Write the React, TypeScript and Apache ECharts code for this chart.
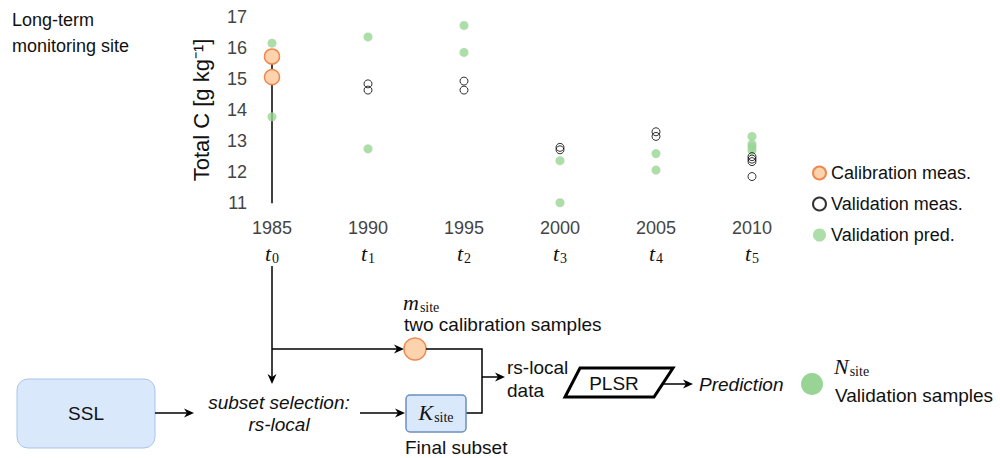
import React, { useEffect, useRef } from "react";
import * as echarts from "echarts";

const years = [1985, 1990, 1995, 2000, 2005, 2010];
const timeIndex = ["0", "1", "2", "3", "4", "5"];
const yTicks = [11, 17];
const calibrationMeas: [number, number][] = [
  [1985, 15.72],
  [1985, 15.06],
];
const calibrationLine: [number, number][] = [
  [1985, 11],
  [1985, 15.72],
];
const validationMeas: [number, number][] = [
  [1990, 14.84], [1990, 14.64],
  [1995, 14.93], [1995, 14.64],
  [2000, 12.8], [2000, 12.72],
  [2005, 13.3], [2005, 13.15],
  [2010, 12.5], [2010, 12.42], [2010, 12.34], [2010, 11.86],
];
const validationPred: [number, number][] = [
  [1985, 16.15], [1985, 13.78],
  [1990, 16.35], [1990, 12.75],
  [1995, 16.72], [1995, 15.85],
  [2000, 12.37], [2000, 11.02],
  [2005, 12.6], [2005, 12.07],
  [2010, 13.15], [2010, 12.9], [2010, 12.8], [2010, 12.7],
];

const SANS = "'Liberation Sans', Arial, Helvetica, sans-serif";
const SERIF = "'Liberation Serif', 'DejaVu Serif', serif";
const ORANGE_FILL = "#FDD3AE";
const ORANGE_STROKE = "#F0884E";
const GREEN = "#98D494";
const BLUE_FILL = "#DAE8FC";
const FS = 19;

function arrow(x1: number, y1: number, x2: number, y2: number) {
  const len = 10;
  const half = 4.5;
  const dx = x2 - x1;
  const dy = y2 - y1;
  const d = Math.sqrt(dx * dx + dy * dy);
  const ux = dx / d;
  const uy = dy / d;
  const bx = x2 - ux * len;
  const by = y2 - uy * len;
  const nx = -uy;
  const ny = ux;
  return [
    {
      type: "line",
      shape: { x1, y1, x2: bx + ux * 3, y2: by + uy * 3 },
      style: { stroke: "#000", lineWidth: 1.5 },
    },
    {
      type: "polygon",
      shape: {
        points: [
          [x2, y2],
          [bx + nx * half, by + ny * half],
          [bx + ux * 3, by + uy * 3],
          [bx - nx * half, by - ny * half],
        ],
      },
      style: { fill: "#000" },
    },
  ];
}

function txt(x: number, y: number, text: string, opts: any = {}) {
  return {
    type: "text",
    x,
    y,
    style: {
      text,
      fontFamily: SANS,
      fontSize: FS,
      fill: "#111",
      textAlign: opts.align || "left",
      textVerticalAlign: "middle",
      fontStyle: opts.italic ? "italic" : "normal",
      ...(opts.style || {}),
    },
  };
}

const mathRich = {
  v: { fontFamily: SERIF, fontStyle: "italic", fontSize: 22, fill: "#111", color: "#111" },
  s: { fontFamily: SERIF, fontSize: 14, fill: "#111", color: "#111", padding: [10, 0, 0, 1] },
};

function mathTxt(x: number, y: number, v: string, s: string, align = "left") {
  return {
    type: "text",
    x,
    y,
    style: {
      text: `{v|${v}}{s|${s}}`,
      rich: mathRich,
      textAlign: align,
      textVerticalAlign: "middle",
    },
  };
}

export default function App() {
  const ref = useRef<HTMLDivElement>(null);
  useEffect(() => {
    if (!ref.current) return;
    const chart = echarts.init(ref.current, undefined, { renderer: "svg" });
    const graphic: any[] = [
      txt(12, 20, "Long-term", { style: { fontSize: 18 } }),
      txt(12, 46, "monitoring site", { style: { fontSize: 18 } }),
      // flow
      ...arrow(272, 266, 272, 384),
      ...arrow(272, 349, 404, 349),
      {
        type: "circle",
        shape: { cx: 415, cy: 349, r: 11 },
        style: { fill: ORANGE_FILL, stroke: ORANGE_STROKE, lineWidth: 1.5 },
      },
      {
        type: "polyline",
        shape: { points: [[426, 349], [482, 349], [482, 413], [466, 413]] },
        style: { stroke: "#000", lineWidth: 1.5, fill: null },
      },
      ...arrow(482, 377, 505, 377),
      {
        type: "rect",
        shape: { x: 17, y: 379, width: 138, height: 69, r: 11 },
        style: { fill: BLUE_FILL, stroke: "#A9C4EB", lineWidth: 1 },
      },
      txt(86, 413, "SSL", { align: "center" }),
      ...arrow(155, 413, 194, 413),
      txt(279, 402, "subset selection:", { align: "center", italic: true }),
      txt(279, 424, "rs-local", { align: "center", italic: true }),
      ...arrow(360, 413, 405, 413),
      {
        type: "rect",
        shape: { x: 406, y: 395, width: 60, height: 37, r: 4 },
        style: { fill: BLUE_FILL, stroke: "#6C8EBF", lineWidth: 1.5 },
      },
      mathTxt(436, 412, "K", "site", "center"),
      txt(405, 447, "Final subset"),
      mathTxt(403, 302, "m", "site"),
      txt(404, 324, "two calibration samples"),
      txt(507, 367, "rs-local"),
      txt(507, 390, "data"),
      {
        type: "polygon",
        shape: { points: [[580, 368], [673, 368], [654, 397], [565, 397]] },
        style: { fill: "#fff", stroke: "#000", lineWidth: 3 },
      },
      txt(614, 383, "PLSR", { align: "center" }),
      ...arrow(663, 384, 693, 384),
      txt(699, 384, "Prediction", { italic: true }),
      {
        type: "circle",
        shape: { cx: 812, cy: 384, r: 11 },
        style: { fill: GREEN },
      },
      mathTxt(834, 366, "N", "site"),
      txt(835, 395, "Validation samples"),
    ];

    chart.setOption({
      animation: false,
      grid: { left: 272, top: 16.7, width: 480, height: 186.6, containLabel: false },
      xAxis: {
        type: "value",
        min: years[0],
        max: years[years.length - 1],
        interval: 5,
        axisLine: { show: false },
        axisTick: { show: false },
        splitLine: { show: false },
        axisLabel: {
          margin: 12,
          formatter: (v: number) => {
            const i = years.indexOf(v);
            return `{y|${v}}\n{t|t}{s|${timeIndex[i]}}`;
          },
          rich: {
            y: { fontFamily: SANS, fontSize: 18, color: "#444", lineHeight: 26 },
            t: { fontFamily: SERIF, fontStyle: "italic", fontSize: 22, color: "#111" },
            s: { fontFamily: SERIF, fontSize: 14, color: "#111", padding: [10, 0, 0, 1] },
          },
        },
      },
      yAxis: {
        type: "value",
        min: yTicks[0],
        max: yTicks[1],
        interval: 1,
        axisLine: { show: false },
        axisTick: { show: false },
        splitLine: { show: false },
        axisLabel: { margin: 25, fontFamily: SANS, fontSize: 18, color: "#444" },
        name: "Total C [g kg⁻¹]",
        nameLocation: "middle",
        nameGap: 60,
        nameTextStyle: { fontFamily: SANS, fontSize: 22, color: "#111" },
      },
      legend: {
        orient: "vertical",
        left: 807,
        top: 159,
        itemWidth: 13,
        itemHeight: 13,
        itemGap: 13,
        icon: "circle",
        textStyle: { fontFamily: SANS, fontSize: 18, color: "#111" },
        data: ["Calibration meas.", "Validation meas.", "Validation pred."],
      },
      series: [
        {
          type: "line",
          data: calibrationLine,
          symbol: "none",
          lineStyle: { color: "#000", width: 1.5 },
          silent: true,
          z: 1,
        },
        {
          name: "Validation meas.",
          type: "scatter",
          data: validationMeas,
          symbolSize: 8,
          itemStyle: { color: "rgba(255,255,255,0)", borderColor: "#000", borderWidth: 1 },
          z: 3,
        },
        {
          name: "Validation pred.",
          type: "scatter",
          data: validationPred,
          symbolSize: 9,
          itemStyle: { color: GREEN },
          z: 2,
        },
        {
          name: "Calibration meas.",
          type: "scatter",
          data: calibrationMeas,
          symbolSize: 15,
          itemStyle: { color: ORANGE_FILL, borderColor: ORANGE_STROKE, borderWidth: 1.5, opacity: 1 },
          z: 2,
        },
      ],
      graphic,
    });
    return () => chart.dispose();
  }, []);
  return (
    <div
      ref={ref}
      style={{ position: "fixed", left: 0, top: 0, width: 1000, height: 458, background: "#fff" }}
    />
  );
}
